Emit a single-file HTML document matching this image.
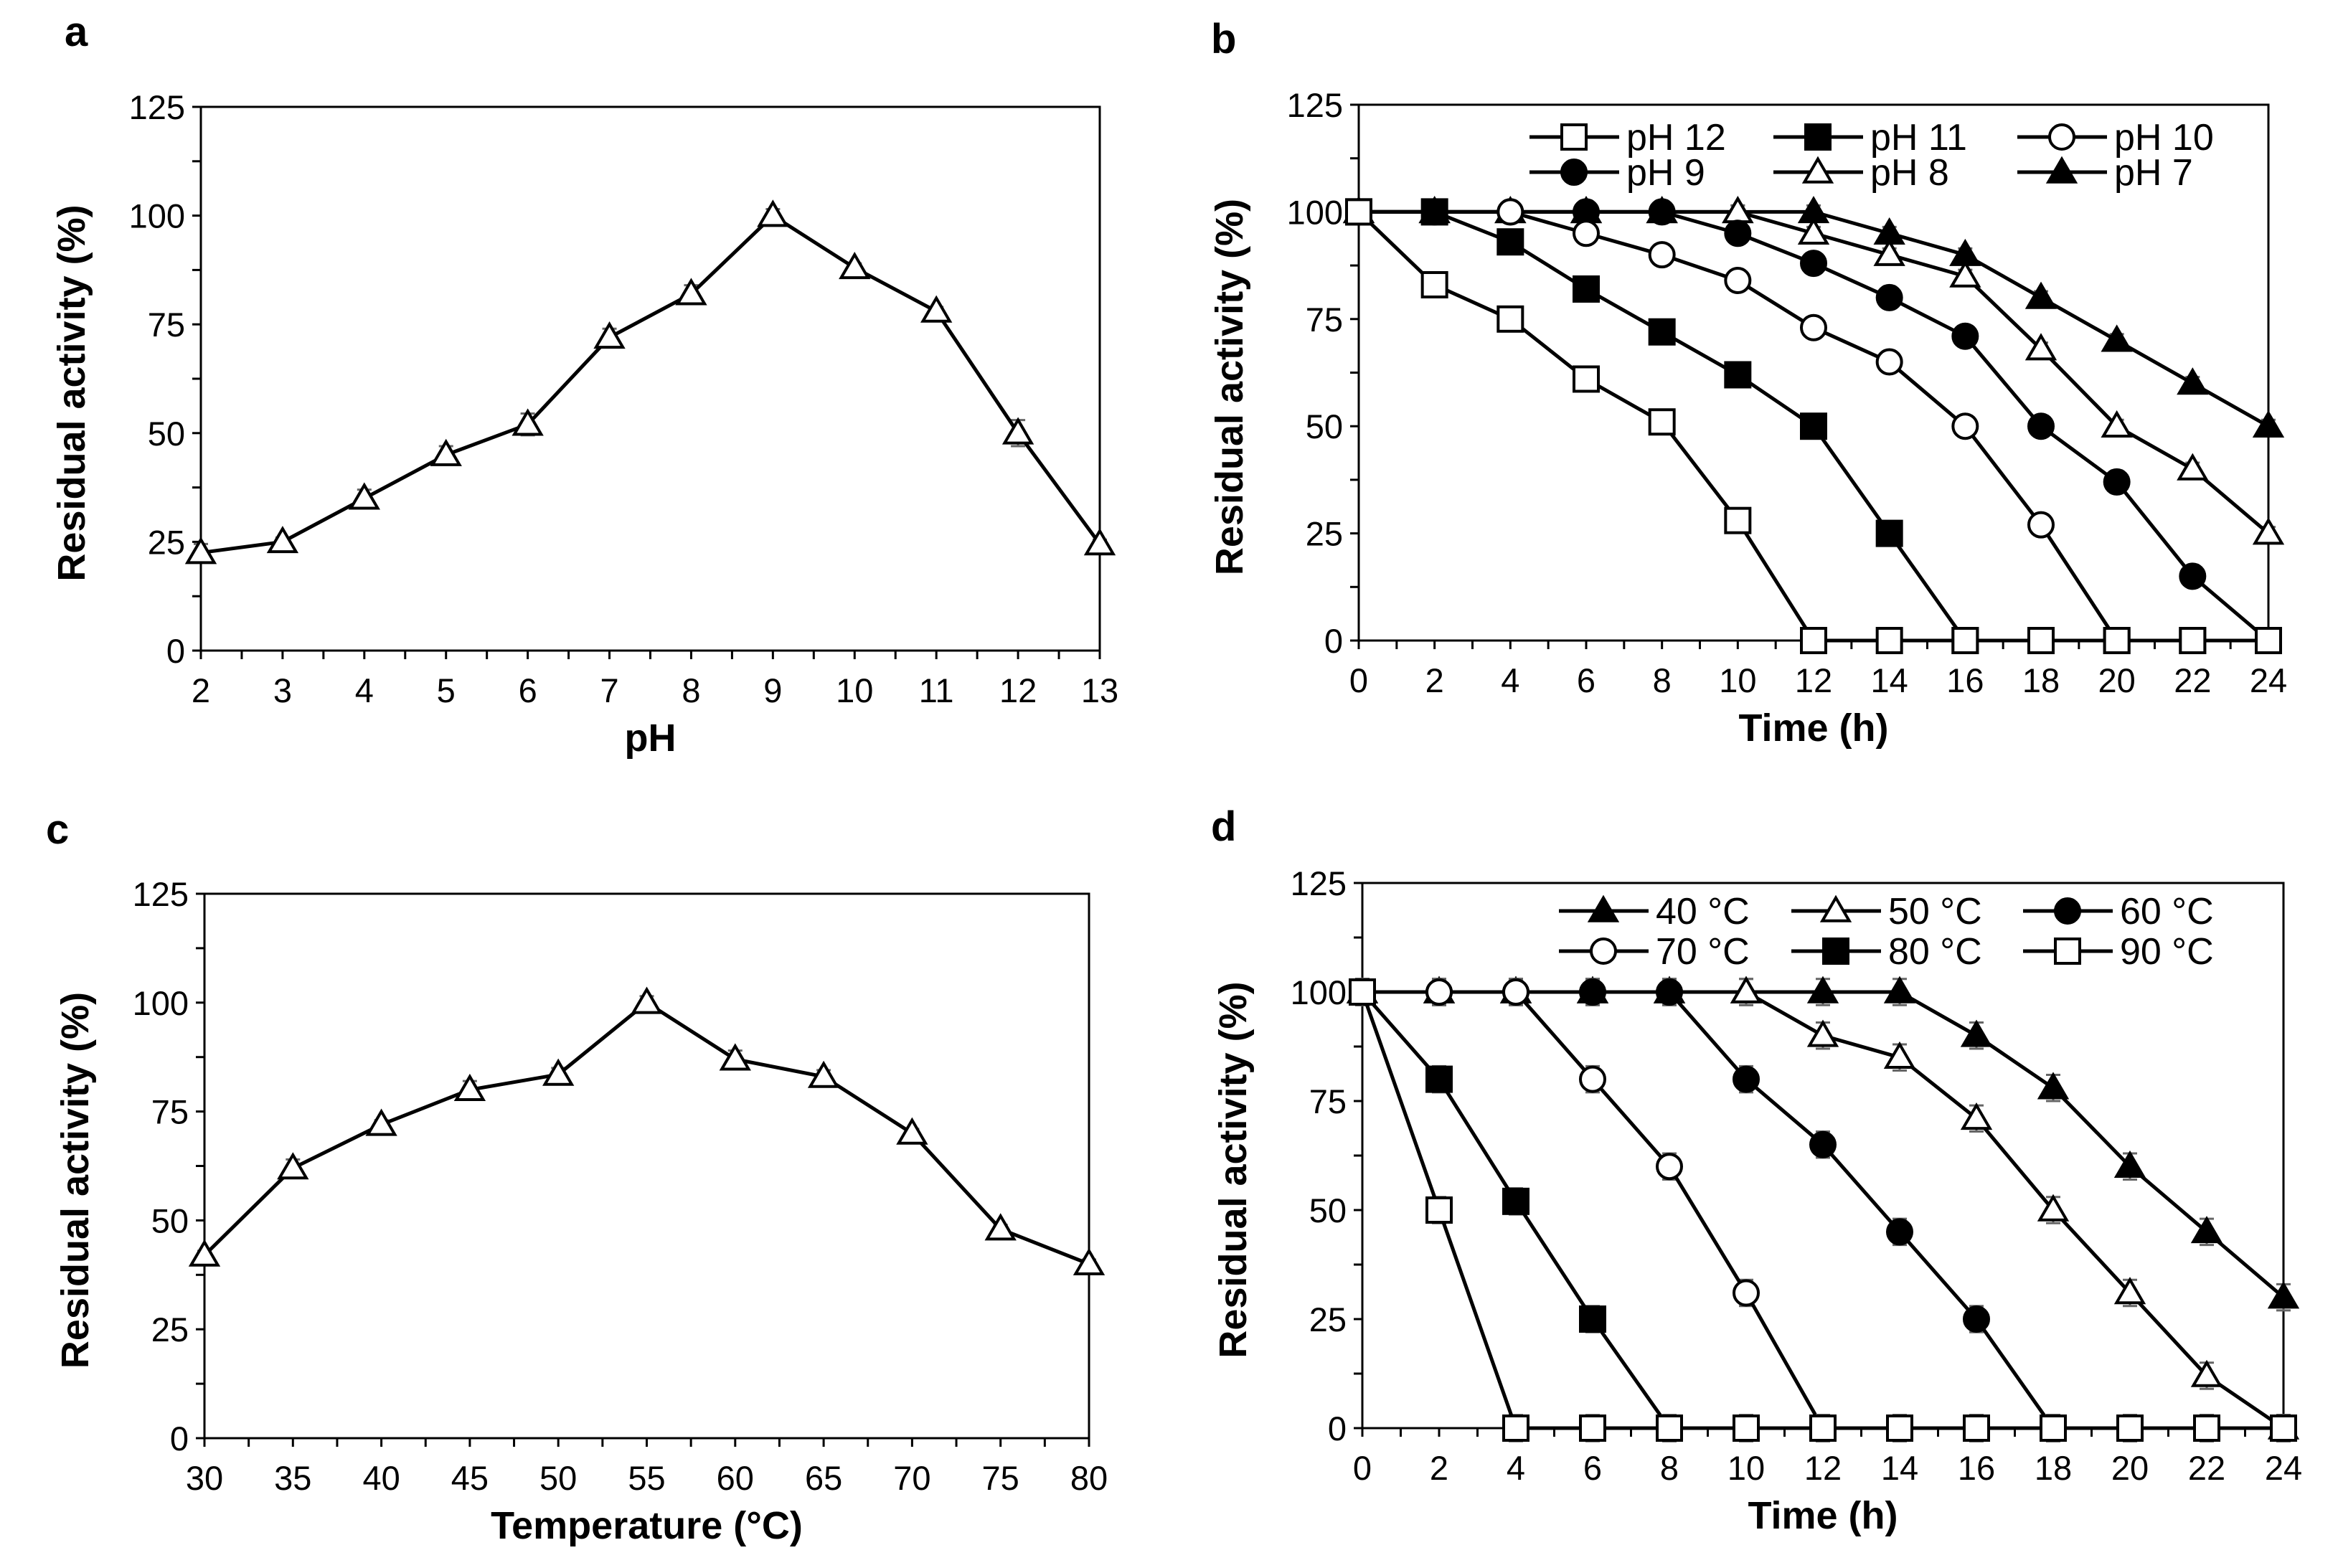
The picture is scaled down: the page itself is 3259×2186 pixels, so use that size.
<!DOCTYPE html>
<html><head><meta charset="utf-8"><style>
html,body{margin:0;padding:0;background:#fff;}
svg{display:block;}
text{font-family:"Liberation Sans Narrow","Liberation Sans",sans-serif;fill:#000;}
.tick{font-size:47px;}
.title{font-family:"Liberation Sans",sans-serif;font-weight:bold;font-size:54px;}
.plabel{font-family:"Liberation Sans",sans-serif;font-weight:bold;font-size:58px;}
.leg{font-size:52px;}
</style></head><body>
<svg id="fig" width="3259" height="2186" viewBox="0 0 3259 2186" xmlns="http://www.w3.org/2000/svg"></svg>
<script>
// Panel a data
const aX = [2,3,4,5,6,7,8,9,10,11,12,13];
const aY = [22.5,25,35,45,52,72,82,100,88,78,50,24.5];
const aErr = [2,1,2,2,2.5,2,2,1.5,1,1,3,1];
// Panel b data
const bTime = [0,2,4,6,8,10,12,14,16,18,20,22,24];
const bPH12 = [100,83,75,61,51,28,0,0,0,0,0,0,0];
const bPH11 = [100,100,93,82,72,62,50,25,0,0,0,0,0];
const bPH10 = [100,100,100,95,90,84,73,65,50,27,0,0,0];
const bPH9 = [100,100,100,100,100,95,88,80,71,50,37,15,0];
const bPH8 = [100,100,100,100,100,100,95,90,85,68,50,40,25];
const bPH7 = [100,100,100,100,100,100,100,95,90,80,70,60,50];
// Panel c data
const cX = [30,35,40,45,50,55,60,65,70,75,80];
const cY = [42,62,72,80,83.5,100,87,83,70,48,40];
const cErr = [1,2,1,2,1.5,1.5,2,1.5,1,1,1];
// Panel d data
const dTime = [0,2,4,6,8,10,12,14,16,18,20,22,24];
const d40 = [100,100,100,100,100,100,100,100,90,78,60,45,30];
const d50 = [100,100,100,100,100,100,90,85,71,50,31,12,0];
const d60 = [100,100,100,100,100,80,65,45,25,0,0,0,0];
const d70 = [100,100,100,80,60,31,0,0,0,0,0,0,0];
const d80 = [100,80,52,25,0,0,0,0,0,0,0,0,0];
const d90 = [100,50,0,0,0,0,0,0,0,0,0,0,0];
const yTicks = [0,25,50,75,100,125];

const NS = "http://www.w3.org/2000/svg";
const svg = document.getElementById('fig');
function mk(tag, attrs, parent){
  const e = document.createElementNS(NS, tag);
  for (const k in attrs) e.setAttribute(k, attrs[k]);
  (parent||svg).appendChild(e);
  return e;
}
function panel(name, box, xmin, xmax, xTickVals, xMinorStep, xTitle, letter, letterPos){
  const g = mk('g', {});
  
  
  const sx = v => box.L + (v - xmin) / (xmax - xmin) * (box.R - box.L);
  const sy = v => box.B - v / 125 * (box.B - box.T);
  const fr = mk('rect', {x:box.L, y:box.T, width:box.R-box.L, height:box.B-box.T, fill:'none', stroke:'#000', 'stroke-width':3}, g);
  
  
  for (let v = 0; v <= 125.01; v += 12.5) {
    mk('line', {x1:box.L-12, x2:box.L, y1:sy(v), y2:sy(v), stroke:'#000', 'stroke-width':3}, g);
  }
  yTicks.forEach(v => {
    const t = mk('text', {x:box.L-22, y:sy(v)+17, 'text-anchor':'end', class:'tick'}, g);
    t.textContent = v;
    
    
  });
  for (let v = xmin; v <= xmax + 1e-6; v += xMinorStep) {
    mk('line', {x1:sx(v), x2:sx(v), y1:box.B, y2:box.B+12, stroke:'#000', 'stroke-width':3}, g);
  }
  xTickVals.forEach(v => {
    const t = mk('text', {x:sx(v), y:box.B+72, 'text-anchor':'middle', class:'tick'}, g);
    t.textContent = v;
    
    
  });
  const xt = mk('text', {x:(box.L+box.R)/2, y:box.B+140, 'text-anchor':'middle', class:'title'}, g);
  xt.textContent = xTitle;
  
  
  const cy = (box.T + box.B) / 2 + 20;
  const yt = mk('text', {x:0, y:0, 'text-anchor':'middle', class:'title', transform:'translate(' + (box.L-162) + ',' + cy + ') rotate(-90)'}, g);
  yt.textContent = 'Residual activity (%)';
  
  
  const lt = mk('text', {x:letterPos[0], y:letterPos[1], class:'plabel'}, g);
  lt.textContent = letter;
  
  
  return {g, sx, sy};
}
function marker(g, type, x, y, s){
  const filled = type.indexOf('f') === 0;
  const fill = filled ? '#000' : '#fff';
  const st = {stroke:'#000', 'stroke-width':4, fill:fill};
  let e;
  if (type.endsWith('sq')) e = mk('rect', Object.assign({x:x-s/2, y:y-s/2, width:s, height:s}, st), g);
  else if (type.endsWith('ci')) e = mk('circle', Object.assign({cx:x, cy:y, r:s/2}, st), g);
  else { const h = s*0.9; e = mk('polygon', Object.assign({points:(x)+','+(y-h*0.6)+' '+(x+s*0.55)+','+(y+h*0.45)+' '+(x-s*0.55)+','+(y+h*0.45)}, st), g); }
  return e;
}
function series(p, name, xs, ys, type, errs){
  const g = mk('g', {}, p.g);
  
  
  if (errs) xs.forEach((x,i) => {
    const X = p.sx(x), Y1 = p.sy(ys[i]-errs[i]), Y2 = p.sy(ys[i]+errs[i]);
    const eb = mk('path', {d:'M'+X+' '+Y1+'V'+Y2+'M'+(X-10)+' '+Y1+'h20M'+(X-10)+' '+Y2+'h20', stroke:'#666', 'stroke-width':3, fill:'none'}, g);
    
    
  });
  const pts = xs.map((x,i) => p.sx(x) + ',' + p.sy(ys[i])).join(' ');
  const pl = mk('polyline', {points:pts, fill:'none', stroke:'#000', 'stroke-width':5}, g);
  
  
  xs.forEach((x,i) => {
    const m = marker(g, type, p.sx(x), p.sy(ys[i]), 34);
    
    
  });
}
function legendEntry(p, label, type, x0, y){
  const g = mk('g', {}, p.g);
  
  
  mk('line', {x1:x0, x2:x0+125, y1:y, y2:y, stroke:'#000', 'stroke-width':5}, g);
  marker(g, type, x0+62, y, 34);
  const t = mk('text', {x:x0+135, y:y+18, class:'leg'}, g);
  t.textContent = label;
}
function errs(n, v){ return new Array(n).fill(v); }

// Panel a
const pa = panel('a', {L:280, R:1533, T:149, B:907}, 2, 13, aX, 0.5, 'pH', 'a', [90,64]);
series(pa, 'ph-profile', aX, aY, 'otri', aErr);
// Panel b
const pb = panel('b', {L:1894, R:3162, T:146, B:893}, 0, 24, bTime, 1, 'Time (h)', 'b', [1688,74]);
[['ph-7',bPH7,'ftri'],['ph-8',bPH8,'otri'],['ph-9',bPH9,'fci'],['ph-10',bPH10,'oci'],['ph-11',bPH11,'fsq'],['ph-12',bPH12,'osq']].forEach(s => series(pb, s[0], bTime, s[1], s[2], errs(13,1.5)));
legendEntry(pb, 'pH 12', 'osq', 2132, 191);
legendEntry(pb, 'pH 11', 'fsq', 2472, 191);
legendEntry(pb, 'pH 10', 'oci', 2812, 191);
legendEntry(pb, 'pH 9', 'fci', 2132, 240);
legendEntry(pb, 'pH 8', 'otri', 2472, 240);
legendEntry(pb, 'pH 7', 'ftri', 2812, 240);
// Panel c
const pc = panel('c', {L:285, R:1518, T:1246, B:2005}, 30, 80, cX, 2.5, 'Temperature (°C)', 'c', [64,1176]);
series(pc, 'temperature-profile', cX, cY, 'otri', cErr);
// Panel d
const pd = panel('d', {L:1899, R:3183, T:1231, B:1991}, 0, 24, dTime, 1, 'Time (h)', 'd', [1688,1172]);
[['40c',d40,'ftri'],['50c',d50,'otri'],['60c',d60,'fci'],['70c',d70,'oci'],['80c',d80,'fsq'],['90c',d90,'osq']].forEach(s => series(pd, s[0], dTime, s[1], s[2], errs(13,3)));
legendEntry(pd, '40 °C', 'ftri', 2173, 1270);
legendEntry(pd, '50 °C', 'otri', 2497, 1270);
legendEntry(pd, '60 °C', 'fci', 2820, 1270);
legendEntry(pd, '70 °C', 'oci', 2173, 1326);
legendEntry(pd, '80 °C', 'fsq', 2497, 1326);
legendEntry(pd, '90 °C', 'osq', 2820, 1326);
</script>
</body></html>
